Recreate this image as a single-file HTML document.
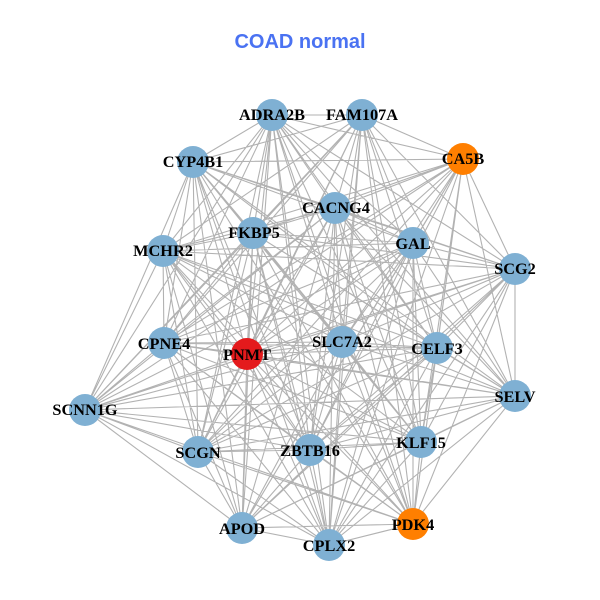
<!DOCTYPE html>
<html><head><meta charset="utf-8"><style>
html,body{margin:0;padding:0;background:#fff}
svg{display:block}
.l{font:bold 16.3px "Liberation Serif",serif;text-anchor:middle;fill:#000}
.t{font:bold 20px "Liberation Sans",sans-serif;text-anchor:middle;fill:#4a72f2}
</style></head><body>
<svg id="s" xmlns="http://www.w3.org/2000/svg" width="600" height="600" viewBox="0 0 600 600">
<rect width="600" height="600" fill="#fff"/>
<text class="t" x="300" y="48">COAD normal</text>
<path id="e" fill="none" stroke="#b2b2b2" stroke-width="1.1" d=""/>
<g fill="#7fb0d3">
<circle cx="272" cy="115" r="16"/><circle cx="362" cy="115" r="16"/>
<circle cx="463" cy="159" r="16" fill="#ff7f00"/><circle cx="193" cy="162" r="16"/>
<circle cx="335" cy="208" r="16"/><circle cx="253" cy="233" r="16"/>
<circle cx="413" cy="243" r="16"/><circle cx="163" cy="251" r="16"/>
<circle cx="515" cy="269" r="16"/><circle cx="164" cy="343" r="16"/>
<circle cx="247" cy="354" r="16" fill="#e41a1c"/><circle cx="342" cy="342" r="16"/>
<circle cx="437" cy="348" r="16"/><circle cx="515" cy="396" r="16"/>
<circle cx="85" cy="410" r="16"/><circle cx="198" cy="452" r="16"/>
<circle cx="310" cy="450" r="16"/><circle cx="421" cy="442" r="16"/>
<circle cx="242" cy="528" r="16"/><circle cx="329" cy="545" r="16"/>
<circle cx="413" cy="524" r="16" fill="#ff7f00"/>
</g>
<text class="l" x="272" y="120">ADRA2B</text><text class="l" x="362" y="120">FAM107A</text>
<text class="l" x="463" y="164">CA5B</text><text class="l" x="193" y="167">CYP4B1</text>
<text class="l" x="336" y="213">CACNG4</text><text class="l" x="254" y="238">FKBP5</text>
<text class="l" x="413" y="249">GAL</text><text class="l" x="163" y="256">MCHR2</text>
<text class="l" x="515" y="274">SCG2</text><text class="l" x="164" y="349">CPNE4</text>
<text class="l" x="247" y="360">PNMT</text><text class="l" x="342" y="347">SLC7A2</text>
<text class="l" x="437" y="354">CELF3</text><text class="l" x="515" y="402">SELV</text>
<text class="l" x="85" y="415">SCNN1G</text><text class="l" x="198" y="458">SCGN</text>
<text class="l" x="310" y="456">ZBTB16</text><text class="l" x="421" y="448">KLF15</text>
<text class="l" x="242" y="534">APOD</text><text class="l" x="329" y="551">CPLX2</text>
<text class="l" x="413" y="530">PDK4</text>
</svg>
<script>
var p=[[272,115],[362,115],[463,159],[193,162],[335,208],[253,233],[413,243],[163,251],[515,269],[164,343],[247,354],[342,342],[437,348],[515,396],[85,410],[198,452],[310,450],[421,442],[242,528],[329,545],[413,524]],d="";
for(var i=0;i<p.length;i++)for(var j=i+1;j<p.length;j++)d+="M"+p[i]+"L"+p[j];
document.getElementById("e").setAttribute("d",d);
</script>
</body></html>
